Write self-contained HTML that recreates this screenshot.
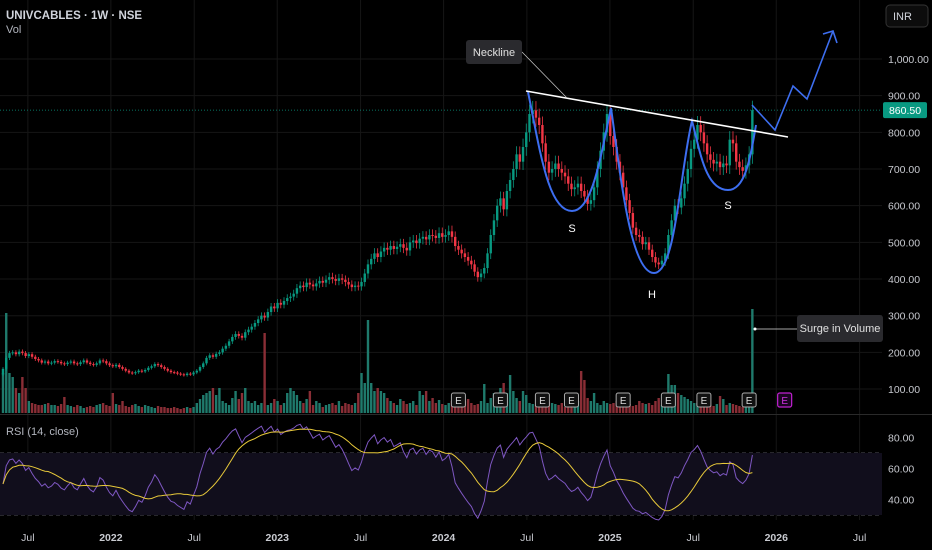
<!DOCTYPE html>
<html><head><meta charset="utf-8"><style>
html,body{margin:0;padding:0;background:#000;width:932px;height:550px;overflow:hidden}
svg{display:block;font-family:"Liberation Sans",sans-serif}
</style></head><body>
<svg id="chart" width="932" height="550" viewBox="0 0 932 550" xmlns="http://www.w3.org/2000/svg">
<rect x="0" y="0" width="932" height="550" fill="#000"/>
<g id="grid"></g>
<rect x="0" y="453" width="882" height="62" fill="#110e1c"/>
<g id="vol"></g>
<g id="candles"></g>
<g id="rsi"></g>
<g id="axes"></g>
<g id="draw"></g>
<text x="6" y="19" fill="#d1d4dc" font-size="11.5" font-weight="bold">UNIVCABLES · 1W · NSE</text>
<text x="6" y="33" fill="#b2b5be" font-size="11">Vol</text>
<text x="6" y="435" fill="#b2b5be" font-size="11">RSI (14, close)</text>
<rect x="886" y="5" width="42" height="22" rx="4" fill="#0c0c0c" stroke="#333"/>
<text x="893" y="20" fill="#d1d4dc" font-size="11">INR</text>
</svg>
<script>
const closes=[155,185,198,200,195,202,198,190,195,188,
182,178,172,175,170,172,176,174,170,168,
172,175,170,168,173,178,172,168,166,170,
178,176,170,165,162,166,160,155,150,145,
143,146,150,148,152,158,162,168,165,160,
155,150,146,145,142,140,138,142,140,145,
150,160,170,185,192,188,196,200,210,218,
230,242,250,245,240,255,262,270,280,290,
300,295,310,325,320,335,330,340,348,352,
360,375,382,378,390,385,380,388,395,390,
398,405,400,395,402,398,392,385,378,382,
380,392,415,440,455,470,460,475,485,480,
490,482,488,495,485,478,500,505,498,510,
515,508,520,518,512,525,515,520,530,515,
490,480,470,460,450,440,420,405,415,430,
470,520,560,600,620,590,640,670,700,740,
720,760,800,850,860,840,820,770,720,690,
700,715,700,690,680,660,645,650,660,640,
625,605,615,650,700,750,800,850,790,760,
720,690,650,615,580,540,520,515,495,500,
480,460,445,440,450,470,520,560,600,595,
620,660,700,755,780,820,800,770,740,725,
715,720,705,715,710,780,770,720,705,695,
710,740,860.5];
const volumes=[40,100,40,36,25,20,36,25,12,10,
9,8,8,9,10,8,8,7,9,16,
8,7,6,8,7,5,6,7,6,8,
9,10,8,7,20,9,8,12,7,6,
8,9,7,6,8,7,6,5,7,6,
6,5,5,6,5,4,5,6,5,6,
10,14,18,20,22,25,18,25,12,10,
8,15,22,14,20,25,12,10,12,8,
10,80,8,10,14,12,8,10,20,25,
22,18,12,10,14,22,8,12,10,6,
8,9,10,8,12,7,10,9,8,10,
20,40,30,93,30,22,25,22,20,15,
12,10,8,14,12,9,10,12,8,22,
18,22,12,15,10,13,9,8,10,12,
8,9,10,12,14,10,8,9,12,29,
10,15,20,18,25,30,20,38,22,15,
12,22,18,10,9,8,12,14,10,11,
10,9,8,10,6,8,10,8,12,42,
33,15,12,20,10,8,12,10,9,10,
12,14,10,8,9,7,8,12,10,9,
10,8,12,15,8,10,39,28,28,20,
18,16,14,12,10,10,8,9,10,8,
7,9,17,14,8,10,9,8,7,6,
6,8,104];
const tickLabels=["Jul","2022","Jul","2023","Jul","2024","Jul","2025","Jul","2026","Jul"];
const tickIdx=[7.7,33.4,59.2,84.9,110.7,136.4,162.2,187.9,213.7,239.4,265.2];
const priceTicks=[1000,900,800,700,600,500,400,300,200,100];
const rsiTicks=[80,60,40];
const earningsIdx=[141,154,167,176,192,206,217,231];

const NS="http://www.w3.org/2000/svg";
const xOf=i=>3+i*3.23;
const yP=p=>59+(1000-p)*0.3667;
const yR=v=>437.5+(80-v)*1.55;
const yV=v=>413-v;
function mk(tag,attrs,parent){const e=document.createElementNS(NS,tag);for(const k in attrs)e.setAttribute(k,attrs[k]);parent.appendChild(e);return e;}
const grid=document.getElementById('grid'),axes=document.getElementById('axes');
priceTicks.forEach(p=>{
  const l=mk('line',{x1:0,x2:882,y1:yP(p),y2:yP(p),stroke:'#161616'},grid);
  
  
  const t=mk('text',{x:888,y:yP(p)+4,fill:'#c8cad0','font-size':10.5},axes);
  t.textContent=p.toFixed(2).replace(/\B(?=(\d{3})+(?!\d))/g,',');
  
  
});
tickIdx.forEach((ix,k)=>{
  const x=xOf(ix);
  const l=mk('line',{x1:x,x2:x,y1:0,y2:520,stroke:'#161616'},grid);
  
  
  const yr=tickLabels[k]!=="Jul";
  const t=mk('text',{x:x,y:541,fill:'#c8cad0','font-size':10.5,'text-anchor':'middle','font-weight':yr?'bold':'normal'},axes);
  t.textContent=tickLabels[k];
  
  
});
const sep=mk('line',{x1:0,x2:932,y1:414.5,y2:414.5,stroke:'#2a2a2a'},axes);


[70,50,30].forEach(v=>{
  const l=mk('line',{x1:0,x2:882,y1:yR(v),y2:yR(v),stroke:'#6a6a78','stroke-dasharray':'4 3','stroke-width':0.8},grid);
  
  
});
rsiTicks.forEach(v=>{
  const t=mk('text',{x:888,y:yR(v)+4,fill:'#c8cad0','font-size':10.5},axes);
  t.textContent=v.toFixed(2);
  
  
});
const vg=document.getElementById('vol'),cg=document.getElementById('candles');
closes.forEach((c,i)=>{
  const o=i?closes[i-1]:c*0.9;
  const up=c>=o, x=xOf(i);
  const w=Math.max(4,c*0.03);
  const hi=Math.max(o,c)+w, lo=Math.min(o,c)-w;
  const v=mk('rect',{x:x-1.2,y:yV(volumes[i]),width:2.4,height:volumes[i],fill:up?'#1f7a6c':'#8a2e36'},vg);
  
  
  const wk=mk('line',{x1:x,x2:x,y1:yP(hi),y2:yP(lo),stroke:up?'#089981':'#f23645','stroke-width':0.8},cg);
  
  
  const bt=Math.min(yP(o),yP(c)),bh=Math.max(1,Math.abs(yP(o)-yP(c)));
  const b=mk('rect',{x:x-1.2,y:bt,width:2.4,height:bh,fill:up?'#089981':'#f23645'},cg);
  
  
});
earningsIdx.forEach(ix=>{
  const x=xOf(ix);
  const r=mk('rect',{x:x-7,y:393,width:14,height:14,rx:2,fill:'#111',stroke:'#aaa','stroke-width':1},vg);
  
  
  const t=mk('text',{x:x,y:404,fill:'#ddd','font-size':10,'text-anchor':'middle'},vg);
  t.textContent='E';
  
  
});
{const x=xOf(242);
 const r=mk('rect',{x:x-7,y:393,width:14,height:14,rx:2,fill:'#1a0520',stroke:'#c020d0','stroke-width':1.2},vg);
 
 
 const t=mk('text',{x:x,y:404,fill:'#d030e0','font-size':10,'text-anchor':'middle'},vg);
 t.textContent='E';
 
 }
// RSI (Wilder, seeded with equal average gain/loss)
const rsiVals=[],ma=[];
let seed=0;for(let i=1;i<15&&i<closes.length;i++)seed+=Math.abs(closes[i]-closes[i-1]);
seed=seed/14/2||1;
let ag=seed,al=seed;
closes.forEach((c,i)=>{
  if(i===0){rsiVals.push(50);return;}
  const d=c-closes[i-1],g=Math.max(d,0),l=Math.max(-d,0);
  ag=(ag*13+g)/14;al=(al*13+l)/14;
  rsiVals.push(al===0?100:100-100/(1+ag/al));
});
rsiVals.forEach((v,i)=>{const s=rsiVals.slice(Math.max(0,i-13),i+1);ma.push(s.reduce((a,b)=>a+b,0)/s.length);});
const rg=document.getElementById('rsi');
const rl=mk('path',{d:rsiVals.map((v,i)=>(i?'L':'M')+xOf(i).toFixed(1)+','+yR(v).toFixed(1)).join(''),fill:'none',stroke:'#7e57c2','stroke-width':1},rg);


const ml=mk('path',{d:ma.map((v,i)=>(i?'L':'M')+xOf(i).toFixed(1)+','+yR(v).toFixed(1)).join(''),fill:'none',stroke:'#e8c93a','stroke-width':1},rg);


const dg=document.getElementById('draw');
const last=closes[closes.length-1];
const pl=mk('line',{x1:0,x2:882,y1:yP(last),y2:yP(last),stroke:'#089981','stroke-dasharray':'1 2','stroke-width':0.8},dg);


const pb=mk('rect',{x:883,y:yP(last)-8,width:44,height:16,rx:2,fill:'#089981'},dg);


const pt=mk('text',{x:905,y:yP(last)+4,fill:'#fff','font-size':10.5,'text-anchor':'middle'},dg);
pt.textContent=last.toFixed(2);


const hs=mk('path',{d:'M528,92 C540,150 548,211 572,211 C592,211 600,160 611,108 C620,170 630,273 654,273 C676,273 680,170 692,121 C700,150 705,190 728,190 C745,190 750,160 756,125',fill:'none',stroke:'#3d6ef0','stroke-width':2},dg);


const pr=mk('path',{d:'M752,105 L775,130 L793,86 L807,99 L833,31 M823,34 L833,31 L837,43',fill:'none',stroke:'#3d6ef0','stroke-width':1.6},dg);


const nl=mk('line',{x1:526,y1:91,x2:788,y2:137,stroke:'#fff','stroke-width':1.6},dg);


const nll=mk('line',{x1:522,y1:52,x2:567,y2:98,stroke:'#ccc','stroke-width':0.7},dg);


const nb=mk('rect',{x:466,y:40,width:56,height:24,rx:3,fill:'#2a2a2e'},dg);


const nt=mk('text',{x:494,y:56,fill:'#e0e0e0','font-size':11,'text-anchor':'middle'},dg);
nt.textContent='Neckline';


[['S',572,232,'left-shoulder-label'],['H',652,298,'head-label'],['S',728,209,'right-shoulder-label']].forEach(a=>{
  const t=mk('text',{x:a[1],y:a[2],fill:'#fff','font-size':11,'text-anchor':'middle'},dg);
  t.textContent=a[0];
  
  
});
const sl=mk('line',{x1:755,y1:329,x2:797,y2:329,stroke:'#ddd','stroke-width':0.8},dg);


const sd=mk('circle',{cx:755,cy:329,r:1.5,fill:'#fff'},dg);


const sb=mk('rect',{x:797,y:315,width:86,height:27,rx:3,fill:'#2a2a2e'},dg);


const st=mk('text',{x:840,y:332,fill:'#e0e0e0','font-size':11,'text-anchor':'middle'},dg);
st.textContent='Surge in Volume';


</script>
</body></html>
